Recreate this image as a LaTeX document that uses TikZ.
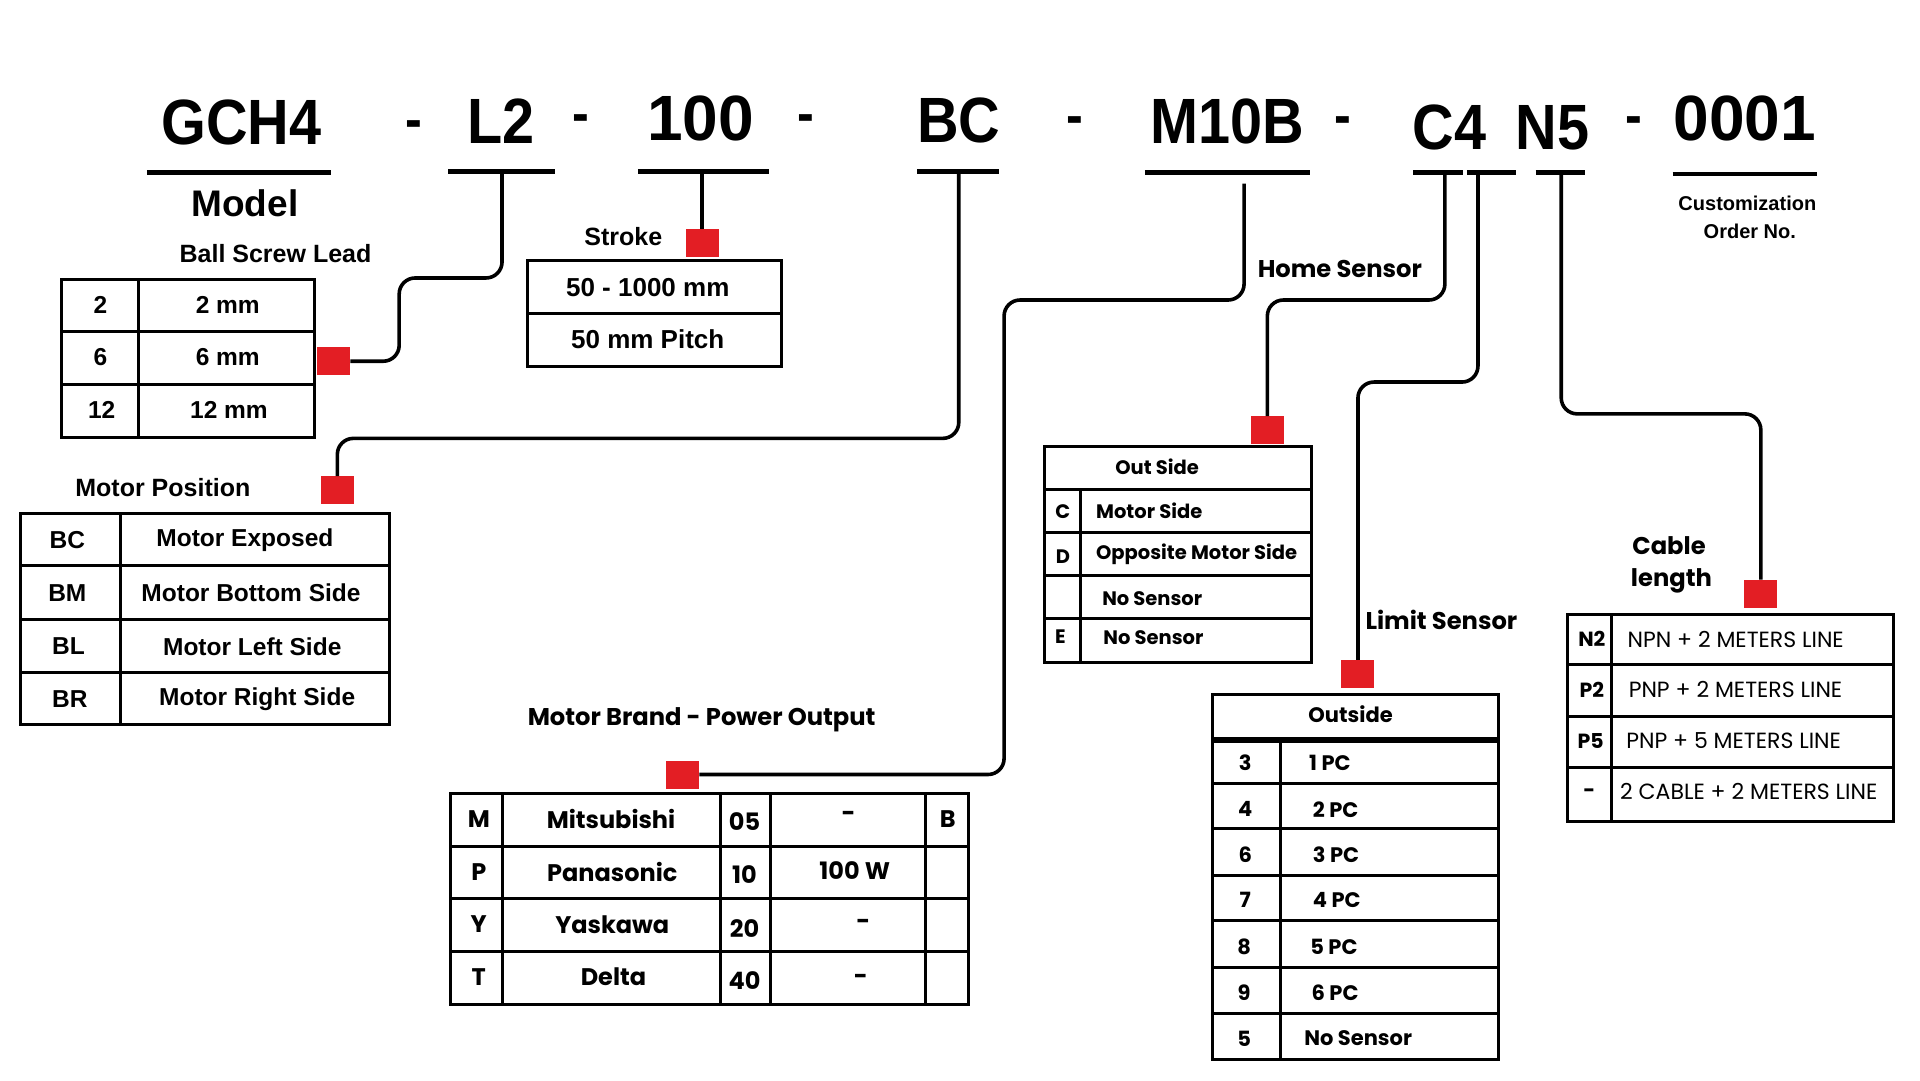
\documentclass[tikz,border=0pt]{standalone}
\usepackage{fontspec}
\newfontfamily\hdf[FakeStretch=0.9]{Liberation Sans}
\newfontfamily\cf{Liberation Sans}
\newfontfamily\pf{Poppins}
\definecolor{redc}{HTML}{E31E24}
\begin{document}
\begin{tikzpicture}[x=1.2245pt,y=-1.2245pt,
  every node/.style={inner sep=0pt},
  code/.style={font=\hdf\bfseries\fontsize{64}{64}\selectfont, anchor=base},
  ncode/.style={font=\cf\bfseries\fontsize{64}{64}\selectfont, anchor=base},
  dsh/.style={font=\hdf\bfseries\fontsize{56}{56}\selectfont, anchor=base},
  uline/.style={line width=4.5pt},
  conn/.style={line width=3.6pt, rounded corners=16pt},
  tbl/.style={line width=3pt},
  rsq/.style={fill=redc, minimum width=33pt, minimum height=28pt, draw=none},
  lbl/.style={font=\cf\bfseries\fontsize{25}{28}\selectfont},
  tc/.style={font=\cf\bfseries\fontsize{24.5}{28}\selectfont},
  plbl/.style={font=\pf\bfseries\fontsize{24.2}{27}\selectfont},
  pmb/.style={font=\pf\bfseries\fontsize{24}{26}\selectfont},
  phs/.style={font=\pf\bfseries\fontsize{19.5}{22}\selectfont},
  pls/.style={font=\pf\bfseries\fontsize{21}{24}\selectfont},
  pcb/.style={font=\pf\bfseries\fontsize{20.5}{22}\selectfont},
  pcr/.style={font=\pf\fontsize{22}{24}\selectfont, anchor=west}
]
\useasboundingbox[fill=white] (0,0) rectangle (1568,882);

% ---------- header codes ----------
\node[code] (gch) at (197,118) {GCH4};
\node[code] (l2) at (409,117) {L2};
\node[ncode] (c100) at (572,115) {100};
\node[code] (bc) at (783,116) {BC};
\node[code] (m10b) at (1002,117) {M10B};
\node[code] (c4) at (1184,122) {C4};
\node[code] (n5) at (1268,122) {N5};
\node[ncode] (ord) at (1425,115) {0001};
\node[dsh] (d1) at (338,113) {-};
\node[dsh] (d2) at (474,108) {-};
\node[dsh] (d3) at (658,108) {-};
\node[dsh] (d4) at (878,110) {-};
\node[dsh] (d5) at (1097,110) {-};
\node[dsh] (d6) at (1334,110) {-};

% underlines
\draw[uline] (120,141) -- (270,141);
\draw[uline] (366,140) -- (453,140);
\draw[uline] (521,140) -- (628,140);
\draw[uline] (749,140) -- (816,140);
\draw[uline] (935,141) -- (1070,141);
\draw[uline] (1154,141) -- (1195,141);
\draw[uline] (1198,141) -- (1238,141);
\draw[uline] (1254,141) -- (1294,141);
\draw[uline] (1366,142) -- (1484,142);

\coordinate (uL2) at (410,141);
\coordinate (u100) at (573.5,141);
\coordinate (uBC) at (783,141);
\coordinate (uM) at (1016,150);
\coordinate (uC4a) at (1180,141);
\coordinate (uC4b) at (1207,141);
\coordinate (uN5) at (1275,141);

\node[font=\cf\bfseries\fontsize{37}{40}\selectfont] (model) at (200,166) {Model};
\node[font=\cf\bfseries\fontsize{20}{22}\selectfont] (cust1) at (1427,166) {Customization};
\node[font=\cf\bfseries\fontsize{20}{22}\selectfont] (cust2) at (1429,189) {Order No.};

% ---------- red squares ----------
\node[rsq] (rs1) at (272.5,295) {};
\node[rsq] (rs2) at (573.5,198.5) {};
\node[rsq] (rs3) at (275.5,400.5) {};
\node[rsq] (rs4) at (557.5,632.5) {};
\node[rsq] (rs5) at (1035,351.5) {};
\node[rsq] (rs6) at (1109,550.5) {};
\node[rsq] (rs7) at (1438,485) {};

% ---------- connectors ----------
\draw[conn] (uL2) -- (410,227) -- (326,227) -- (326,295) -- (rs1.east);
\draw[conn] (u100) -- (rs2.north);
\draw[conn] (uBC) -- (783,358) -- (275.5,358) -- (rs3.north);
\draw[conn] (uM) -- (1016,245) -- (820,245) -- (820,632.5) -- (rs4.east);
\draw[conn] (uC4a) -- (1180,245) -- (1035,245) -- (rs5.north);
\draw[conn] (uC4b) -- (1207,312) -- (1109,312) -- (rs6.north);
\draw[conn] (uN5) -- (1275,338) -- (1438,338) -- (rs7.north);

% ---------- Ball Screw Lead ----------
\node[lbl] (bsl) at (225,207) {Ball Screw Lead};
\draw[tbl] (50,228) rectangle (257,357);
\draw[tbl] (113,228) -- (113,357) (50,271) -- (257,271) (50,314) -- (257,314);
\node[tc] (b1a) at (82,249) {2};
\node[tc] (b1b) at (186,249) {2 mm};
\node[tc] (b2a) at (82,292) {6};
\node[tc] (b2b) at (186,292) {6 mm};
\node[tc] (b3a) at (83,335) {12};
\node[tc] (b3b) at (187,335) {12 mm};

% ---------- Stroke ----------
\node[lbl] (stk) at (509,193) {Stroke};
\draw[tbl] (431,213) rectangle (638,299);
\draw[tbl] (431,256) -- (638,256);
\node[font=\cf\bfseries\fontsize{26}{28}\selectfont] (s1) at (529,235) {50 - 1000 mm};
\node[font=\cf\bfseries\fontsize{26}{28}\selectfont] (s2) at (529,277) {50 mm Pitch};

% ---------- Motor Position ----------
\node[lbl] (mp) at (133,398) {Motor Position};
\draw[tbl] (17,419) rectangle (318,592);
\draw[tbl] (98,419) -- (98,592) (17,462) -- (318,462) (17,506) -- (318,506) (17,549) -- (318,549);
\node[tc] (p1a) at (55,441) {BC};
\node[tc] (p1b) at (200,441) {Motor Exposed};
\node[tc] (p2a) at (55,484) {BM};
\node[tc] (p2b) at (205,484) {Motor Bottom Side};
\node[tc] (p3a) at (56,528) {BL};
\node[tc] (p3b) at (206,528) {Motor Left Side};
\node[tc] (p4a) at (57,571) {BR};
\node[tc] (p4b) at (210,571) {Motor Right Side};

% ---------- Motor Brand ----------
\node[plbl] (mb) at (573,588) {Motor Brand - Power Output};
\draw[tbl] (368,648) rectangle (791,820);
\draw[tbl] (410,648) -- (410,820) (588,648) -- (588,820) (629,648) -- (629,820) (756,648) -- (756,820);
\draw[tbl] (368,691) -- (791,691) (368,734) -- (791,734) (368,777) -- (791,777);
\node[pmb] (m1a) at (391,669) {M};
\node[pmb] (m1b) at (499,669) {Mitsubishi};
\node[pmb] (m1c) at (608,671) {05};
\node[pmb] (m1d) at (693,667) {-};
\node[pmb] (m1e) at (774,669) {B};
\node[pmb] (m2a) at (391,712) {P};
\node[pmb] (m2b) at (500,712) {Panasonic};
\node[pmb] (m2c) at (608,714) {10};
\node[pmb] (m2d) at (698,711) {100 W};
\node[pmb] (m3a) at (391,755) {Y};
\node[pmb] (m3b) at (500,755) {Yaskawa};
\node[pmb] (m3c) at (608,758) {20};
\node[pmb] (m3d) at (705,755) {-};
\node[pmb] (m4a) at (391,798) {T};
\node[pmb] (m4b) at (501,798) {Delta};
\node[pmb] (m4c) at (608,801) {40};
\node[pmb] (m4d) at (703,800) {-};

% ---------- Home Sensor ----------
\node[plbl, anchor=west] (hs) at (1027,220) {Home Sensor};
\draw[tbl] (853,365) rectangle (1071,400);
\draw[tbl] (853,400) rectangle (1071,541);
\draw[tbl] (882,400) -- (882,541) (853,435) -- (1071,435) (853,470) -- (1071,470) (853,505) -- (1071,505);
\node[phs] (h0) at (945,381) {Out Side};
\node[phs] (h1a) at (868,418) {C};
\node[phs, anchor=west] (h1b) at (895,417) {Motor Side};
\node[phs] (h2a) at (868,455) {D};
\node[phs, anchor=west] (h2b) at (895,453) {Opposite Motor Side};
\node[phs, anchor=west] (h3b) at (900,489) {No Sensor};
\node[phs] (h4a) at (866,520) {E};
\node[phs, anchor=west] (h4b) at (901,521) {No Sensor};

% ---------- Limit Sensor ----------
\node[plbl, anchor=west] (ls) at (1115,506) {Limit Sensor};
\draw[tbl] (990,567) rectangle (1224,603);
\draw[tbl] (990,605.5) rectangle (1224,865);
\draw[tbl] (1046,605.5) -- (1046,865);
\draw[tbl] (990,640) -- (1224,640) (990,677) -- (1224,677) (990,715) -- (1224,715)
  (990,752) -- (1224,752) (990,790) -- (1224,790) (990,828) -- (1224,828);
\node[pls] (l0) at (1103,583) {Outside};
\node[pls] (l1a) at (1017,623) {3};
\node[pls, anchor=west] (l1b) at (1069,623) {1 PC};
\node[pls] (l2a) at (1017,661) {4};
\node[pls, anchor=west] (l2b) at (1072,661) {2 PC};
\node[pls] (l3a) at (1017,698) {6};
\node[pls, anchor=west] (l3b) at (1072,698) {3 PC};
\node[pls] (l4a) at (1017,735) {7};
\node[pls, anchor=west] (l4b) at (1072,735) {4 PC};
\node[pls] (l5a) at (1016,773) {8};
\node[pls, anchor=west] (l5b) at (1070,773) {5 PC};
\node[pls] (l6a) at (1016,811) {9};
\node[pls, anchor=west] (l6b) at (1071,811) {6 PC};
\node[pls] (l7a) at (1016,848) {5};
\node[pls, anchor=west] (l7b) at (1065,848) {No Sensor};

% ---------- Cable length ----------
\node[plbl] (cb1) at (1363,446) {Cable};
\node[plbl] (cb2) at (1365,474) {length};
\draw[tbl] (1280,502) rectangle (1546,671);
\draw[tbl] (1316,502) -- (1316,671) (1280,543) -- (1546,543) (1280,585) -- (1546,585) (1280,627) -- (1546,627);
\node[pcb] (c1a) at (1300,522) {N2};
\node[pcr] (c1b) at (1329,522) {NPN + 2 METERS LINE};
\node[pcb] (c2a) at (1300,563) {P2};
\node[pcr] (c2b) at (1330,563) {PNP + 2 METERS LINE};
\node[pcb] (c3a) at (1299,605) {P5};
\node[pcr] (c3b) at (1328,605) {PNP + 5 METERS LINE};
\node[pcb] (c4a) at (1298,648) {-};
\node[pcr] (c4b) at (1323,646) {2 CABLE + 2 METERS LINE};
\end{tikzpicture}
\end{document}
